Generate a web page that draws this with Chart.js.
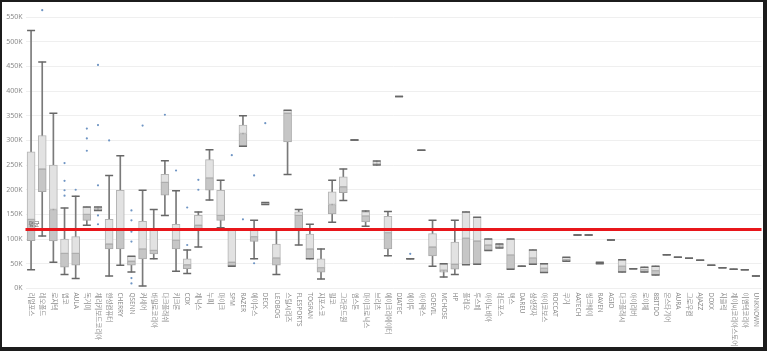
<!DOCTYPE html>
<html>
<head>
<meta charset="utf-8">
<title>브랜드별 가격 분포</title>
<script src="https://cdn.jsdelivr.net/npm/chart.js"></script>
<style>
  html, body { margin: 0; padding: 0; background: #fff; }
  #wrap { position: relative; width: 767px; height: 351px; }
  #frame { position: absolute; left: 0; top: 0; right: 0; bottom: 0; border-style: solid; border-color: #1c1c1c; border-width: 2px 4px 4px 2px; pointer-events: none; }
  canvas { display: block; }
</style>
</head>
<body>
<div id="wrap">
  <canvas id="grafico" width="767" height="351"></canvas>
  <div id="frame"></div>
</div>
<script>
// 브랜드 (x축)
const brands = [
  "리얼포스", "레오폴드", "로지텍", "앱코", "AULA", "독거미", "체리키보드코리아", "한성컴퓨터",
  "CHERRY", "QSENN", "커세어", "바밀로코리아", "다크플래쉬", "키크론", "COX", "제닉스",
  "누피", "마이크", "SPM", "RAZER", "에이수스", "DECK", "LEOBOG", "스틸시리즈",
  "FLESPORTS", "TOGRAN", "지포스코", "필코", "그라운드원", "엠스톤", "마이크로닉스", "브리츠",
  "에이크리에이터", "DIATEC", "에이투", "아이락스", "GOEVIL", "MCHOSE", "HP", "플레오",
  "투스페", "아이노비아", "레드포스", "맥스", "DAREU", "삼성전자", "아이코보스", "ROCCAT",
  "쿠거", "AATECH", "씽크웨이", "RAVEN", "AGIO", "다크플래시", "아이리버", "로이체",
  "8BITDO", "몬스타기어", "AURA", "그로우컴", "AJAZZ", "DOXX", "지클릭", "제이씨코리아스토어",
  "이엠텍코리아", "UNKNOWN"
];

// 상자그림 값 (원)
const whiskerLow = [
  38000, 106000, 53000, 28000, 20000, 128000, 158000, 25000, 47000, 33000, 5000, 60000,
  148000, 35000, 30000, 84000, 179000, 123000, 45000, 288000, 60000, 170000, 28000, 231000,
  88000, 60000, 19000, 134000, 178000, 301000, 126000, 250000, 66000, 389000, 60000, 280000,
  45000, 23000, 28000, 48000, 49000, 77000, 82000, 39000, 45000, 49000, 32000, 118000,
  55000, 108000, 108000, 50000, 98000, 33000, 40000, 33000, 27000, 68000, 63000, 61000,
  57000, 47000, 42000, 39000, 38000, 25000
];
const q1 = [
  97000, 196000, 96000, 43000, 47000, 138000, 158000, 80000, 80000, 47000, 60000, 70000,
  189000, 80000, 40000, 118000, 199000, 138000, 46000, 288000, 95000, 170000, 47000, 297000,
  120000, 60000, 33000, 151000, 194000, 301000, 135000, 251000, 80000, 389000, 60000, 280000,
  66000, 33000, 39000, 48000, 49000, 77000, 82000, 39000, 45000, 49000, 32000, 118000,
  55000, 108000, 108000, 50000, 98000, 33000, 40000, 33000, 27000, 68000, 63000, 61000,
  57000, 47000, 42000, 39000, 38000, 25000
];
const median = [
  140000, 242000, 160000, 71000, 71000, 150000, 162000, 90000, 120000, 55000, 80000, 77000,
  215000, 98000, 48000, 128000, 224000, 148000, 53000, 314000, 105000, 172000, 62000, 355000,
  148000, 80000, 42000, 170000, 206000, 301000, 147000, 254000, 113000, 389000, 60000, 280000,
  84000, 37000, 49000, 102000, 96000, 88000, 86000, 68000, 45000, 62000, 41000, 118000,
  58000, 108000, 108000, 51000, 98000, 45000, 40000, 38000, 36000, 68000, 63000, 61000,
  57000, 47000, 42000, 39000, 38000, 25000
];
const q3 = [
  277000, 310000, 250000, 100000, 105000, 165000, 165000, 140000, 199000, 65000, 136000, 118000,
  231000, 130000, 60000, 148000, 261000, 199000, 118000, 331000, 121000, 174000, 90000, 361000,
  155000, 110000, 60000, 196000, 226000, 301000, 155000, 257000, 146000, 389000, 60000, 280000,
  111000, 50000, 94000, 155000, 144000, 100000, 90000, 100000, 45000, 78000, 50000, 118000,
  63000, 108000, 108000, 53000, 98000, 58000, 40000, 43000, 45000, 68000, 63000, 61000,
  57000, 47000, 42000, 39000, 38000, 25000
];
const whiskerHigh = [
  523000, 459000, 355000, 163000, 187000, 165000, 165000, 229000, 269000, 65000, 199000, 160000,
  259000, 198000, 78000, 155000, 281000, 219000, 118000, 350000, 138000, 174000, 118000, 361000,
  160000, 130000, 80000, 219000, 242000, 301000, 157000, 258000, 156000, 389000, 60000, 280000,
  138000, 50000, 138000, 155000, 144000, 100000, 90000, 100000, 45000, 78000, 50000, 118000,
  63000, 108000, 108000, 53000, 98000, 58000, 40000, 43000, 45000, 68000, 63000, 61000,
  57000, 47000, 42000, 39000, 38000, 25000
];
// 이상치: [브랜드 번호, 가격]
const outliers = [
  [1, 564000], [3, 254000], [3, 218000], [3, 199000], [3, 188000], [4, 200000],
  [5, 324000], [5, 304000], [5, 279000], [6, 453000], [6, 331000], [6, 209000],
  [6, 148000], [6, 130000], [7, 300000], [9, 158000], [9, 138000], [9, 115000],
  [9, 95000], [9, 21000], [9, 10000], [10, 330000], [12, 352000], [13, 239000],
  [14, 164000], [14, 88000], [15, 220000], [15, 200000], [18, 270000], [19, 140000],
  [20, 229000], [20, 51000], [21, 335000], [34, 70000]
];
const yTicks = [0, 50000, 100000, 150000, 200000, 250000, 300000, 350000, 400000, 450000, 500000, 550000];
const average = 119500;

const capPoints = [];
brands.forEach((b, i) => {
  capPoints.push({ x: b, y: whiskerLow[i] });
  capPoints.push({ x: b, y: whiskerHigh[i] });
});

const avgLine = {
  id: 'avgLine',
  afterDatasetsDraw(chart) {
    const { ctx, chartArea, scales } = chart;
    const y = scales.y.getPixelForValue(average);
    ctx.save();
    ctx.strokeStyle = '#e8161b';
    ctx.lineWidth = 3;
    ctx.beginPath();
    ctx.moveTo(chartArea.left, y);
    ctx.lineTo(chartArea.right, y);
    ctx.stroke();
    ctx.font = '6px "Noto Sans CJK KR", sans-serif';
    ctx.fillStyle = '#666';
    ctx.textBaseline = 'bottom';
    ctx.fillText('평균', chartArea.left + 3, y - 3);
    ctx.restore();
  }
};

const xLabels = {
  id: 'xLabels',
  afterDraw(chart) {
    const { ctx, chartArea, scales } = chart;
    ctx.save();
    ctx.font = '6.5px "Noto Sans", "Noto Sans CJK KR", sans-serif';
    ctx.fillStyle = '#8c8c8c';
    ctx.textAlign = 'left';
    ctx.textBaseline = 'middle';
    brands.forEach((b, i) => {
      ctx.save();
      ctx.translate(scales.x.getPixelForValue(i), chartArea.bottom + 4);
      ctx.rotate(Math.PI / 2);
      ctx.fillText(b, 0, 0);
      ctx.restore();
    });
    ctx.restore();
  }
};

const ctx = document.getElementById('grafico').getContext('2d');
new Chart(ctx, {
  type: 'bar',
  data: {
    labels: brands,
    datasets: [
      {
        type: 'line', label: '이상치', order: 0,
        data: outliers.map(o => ({ x: brands[o[0]], y: o[1] })),
        showLine: false, pointRadius: 1.1, pointBorderWidth: 0,
        pointBackgroundColor: '#6f95c4'
      },
      {
        type: 'line', label: '수염 끝', order: 1,
        data: capPoints,
        showLine: false, pointStyle: 'line', pointRadius: 4,
        pointBorderWidth: 1.5, pointBorderColor: '#676767'
      },
      {
        label: '상단 상자', order: 2, grouped: false,
        data: brands.map((b, i) => [median[i], q3[i]]),
        backgroundColor: '#e2e2e2', borderColor: '#b4b4b4',
        borderWidth: 1, borderSkipped: false, barThickness: 8
      },
      {
        label: '하단 상자', order: 3, grouped: false,
        data: brands.map((b, i) => [q1[i], median[i]]),
        backgroundColor: '#c6c6c6', borderColor: '#a8a8a8',
        borderWidth: 1, borderSkipped: false, barThickness: 8
      },
      {
        label: '수염', order: 4, grouped: false,
        data: brands.map((b, i) => [whiskerLow[i], whiskerHigh[i]]),
        backgroundColor: '#7a7a7a', borderWidth: 0, barThickness: 1
      }
    ]
  },
  options: {
    responsive: false,
    animation: false,
    layout: { padding: { top: 2, right: 4.3, bottom: 62.6, left: 0 } },
    plugins: { legend: { display: false }, tooltip: { enabled: false } },
    scales: {
      x: { type: 'category', display: false, offset: true },
      y: {
        type: 'linear', min: 0, max: 570000,
        afterFit(scale) { scale.width = 25.5; },
        afterBuildTicks(scale) { scale.ticks = yTicks.map(v => ({ value: v })); },
        border: { display: false },
        grid: { color: '#efefef', lineWidth: 1, drawTicks: false },
        ticks: {
          padding: 3, color: '#8c8c8c',
          font: { family: '"Noto Sans", sans-serif', size: 7 },
          callback: v => (v / 1000) + 'K'
        }
      }
    }
  },
  plugins: [avgLine, xLabels]
});
</script>
</body>
</html>
